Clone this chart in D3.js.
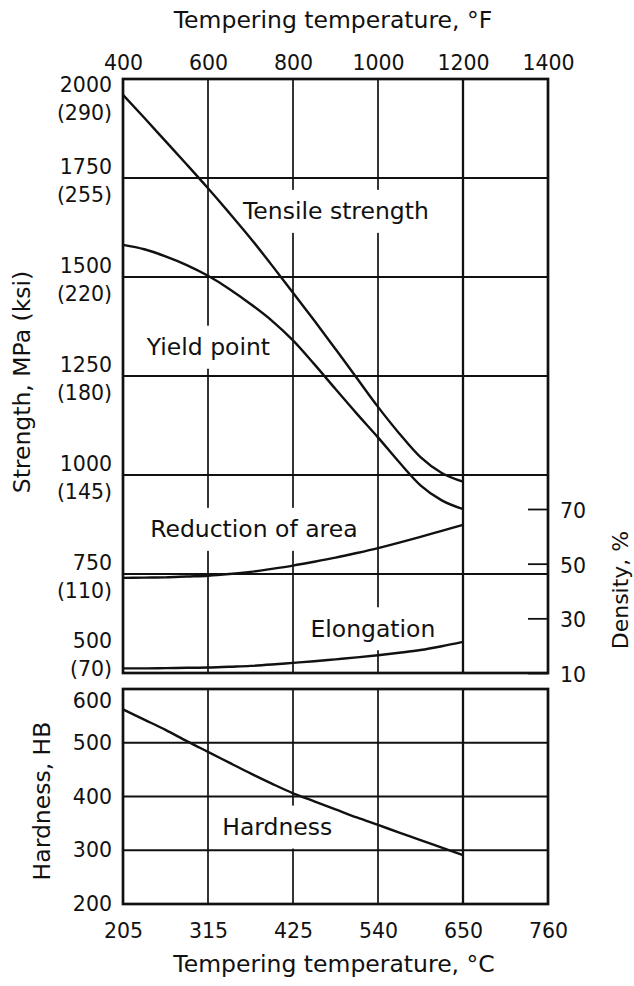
<!DOCTYPE html>
<html><head><meta charset="utf-8">
<script src="https://cdn.jsdelivr.net/npm/d3@7"></script>
<style>
body{margin:0;background:#fff}
svg{display:block}
text{font-family:"DejaVu Sans",sans-serif;fill:#111}
</style>
</head><body><svg id="c" width="634" height="986"></svg>
<script>
// ---------- data ----------
const tempF = [400, 450, 500, 550, 600, 650, 700, 750, 800, 850, 900, 950, 1000, 1050, 1100, 1150, 1200];
const tensileMPa = [1960, 1902, 1843, 1784, 1724, 1662, 1598, 1530, 1460, 1390, 1318, 1245, 1172, 1105, 1045, 1005, 983];
const yieldMPa = [1581, 1570, 1552, 1530, 1503, 1470, 1432, 1390, 1340, 1280, 1217, 1155, 1095, 1032, 974, 936, 914];
const reductionPct = [44.8, 44.9, 45.0, 45.3, 45.6, 46.2, 47.0, 48.1, 49.3, 50.7, 52.2, 53.9, 55.7, 57.7, 59.8, 62.0, 64.2];
const elongationPct = [11.7, 11.7, 11.8, 11.9, 12.0, 12.3, 12.6, 13.1, 13.7, 14.3, 15.0, 15.7, 16.5, 17.4, 18.4, 19.8, 21.4];
const hardnessHB = [562, 543, 524, 503, 483, 463, 443, 424, 406, 391, 376, 361, 347, 333, 319, 305, 291];
const tickF = [400, 600, 800, 1000, 1200, 1400];
const tickC = [205, 315, 425, 540, 650, 760];
const strengthMPa = [2000, 1750, 1500, 1250, 1000, 750, 500];
const strengthKsi = [290, 255, 220, 180, 145, 110, 70];
const densityTicks = [10, 30, 50, 70];
const hardnessTicks = [200, 300, 400, 500, 600];

// ---------- layout ----------
const L = 123, R = 548;
const T1 = 79, B1 = 673, T2 = 689, B2 = 904;
const svg = d3.select("#c");

const x = d3.scaleLinear().domain([400, 1400]).range([L, R]);
const yS = d3.scaleLinear().domain([500, 2000]).range([B1, T1]);
const yD = d3.scaleLinear().domain([10, 70]).range([B1, 509]);
const yH = d3.scaleLinear().domain([200, 600]).range([B2, T2]);

const ink = "#111";

const gGrid = svg.append("g");
const gRects = svg.append("g");
const gCurves = svg.append("g");
const gLabels = svg.append("g");

// ---------- gridlines ----------
function grid(g, yScale, yVals, top, bottom) {
  g.selectAll("line.h").data(yVals).join("line").attr("class", "h")
    .attr("x1", L).attr("x2", R)
    .attr("y1", d => yScale(d)).attr("y2", d => yScale(d))
    .attr("stroke", ink).attr("stroke-width", 1.8);
  g.selectAll("line.v").data(tickF.slice(1, -1)).join("line").attr("class", "v")
    .attr("x1", d => x(d)).attr("x2", d => x(d))
    .attr("y1", top).attr("y2", bottom)
    .attr("stroke", ink).attr("stroke-width", d => d === 1200 ? 2.3 : 1.7);
}
grid(gGrid.append("g"), yS, strengthMPa.slice(1, -1), T1, B1);
grid(gGrid.append("g"), yH, hardnessTicks.slice(1, -1), T2, B2);

// ---------- curve labels (white backgrounds break gridlines) ----------
const labels = [
  {text: "Tensile strength", x: x(901), y: yS(1667)},
  {text: "Yield point", x: x(601), y: yS(1324)},
  {text: "Reduction of area", x: x(708), y: yS(864)},
  {text: "Elongation", x: x(988), y: yS(613)},
  {text: "Hardness", x: x(763), y: yH(344)}
];
const lt = gLabels.selectAll("text").data(labels).join("text")
  .attr("x", d => d.x).attr("y", d => d.y).attr("dy", "0.36em")
  .attr("text-anchor", "middle").attr("font-size", 23.5)
  .text(d => d.text);
lt.each(function(d) {
  const b = this.getBBox();
  gRects.append("rect")
    .attr("x", b.x - 2).attr("width", b.width + 4)
    .attr("y", d.y - 21).attr("height", 43)
    .attr("fill", "#fff");
});

// ---------- curves ----------
const line = (ys, yScale) => d3.line()
  .x((d, i) => x(tempF[i])).y(d => yScale(d))
  .curve(d3.curveMonotoneX)(ys);
const curves = [
  [tensileMPa, yS], [yieldMPa, yS], [reductionPct, yD], [elongationPct, yD], [hardnessHB, yH]
];
gCurves.selectAll("path").data(curves).join("path")
  .attr("d", d => line(d[0], d[1]))
  .attr("fill", "none").attr("stroke", ink).attr("stroke-width", 2.4)
  .attr("stroke-linejoin", "round");

// ---------- frames ----------
svg.append("rect").attr("x", L).attr("y", T1).attr("width", R - L).attr("height", B1 - T1)
  .attr("fill", "none").attr("stroke", ink).attr("stroke-width", 2.7);
svg.append("rect").attr("x", L).attr("y", T2).attr("width", R - L).attr("height", B2 - T2)
  .attr("fill", "none").attr("stroke", ink).attr("stroke-width", 2.7);

// ---------- axes ----------
const topAx = svg.append("g").attr("transform", `translate(0,${T1})`)
  .call(d3.axisTop(x).tickValues(tickF).tickSize(0).tickPadding(9).tickFormat(d3.format("d")));
const botAx = svg.append("g").attr("transform", `translate(0,${B2})`)
  .call(d3.axisBottom(x).tickValues(tickF).tickSize(0).tickPadding(19)
    .tickFormat((d, i) => tickC[i]));
const hAx = svg.append("g").attr("transform", `translate(${L},0)`)
  .call(d3.axisLeft(yH).tickValues(hardnessTicks).tickSize(0).tickPadding(11));
hAx.selectAll(".tick text").filter(d => d === 600).attr("y", 12);
const dAx = svg.append("g").attr("transform", `translate(${R},0)`)
  .call(d3.axisRight(yD).tickValues(densityTicks).tickSize(-20).tickPadding(12));
dAx.selectAll(".tick line").attr("stroke", ink).attr("stroke-width", 1.8);
dAx.selectAll(".tick text").attr("y", 2);
[topAx, botAx, hAx, dAx].forEach(a => {
  a.select(".domain").remove();
  a.selectAll(".tick text").attr("font-family", "DejaVu Sans").attr("font-size", 20.5).attr("fill", ink);
});

// strength two-line labels
const sl = svg.append("g").attr("font-size", 20.5).attr("text-anchor", "end");
strengthMPa.forEach((v, i) => {
  const c = Math.max(T1 + 20, Math.min(B1 - 18, yS(v) + 3));
  sl.append("text").attr("x", 112).attr("y", c - 14).attr("dy", "0.36em").text(v);
  sl.append("text").attr("x", 112).attr("y", c + 14).attr("dy", "0.36em").text(`(${strengthKsi[i]})`);
});

// ---------- titles ----------
svg.append("text").attr("x", 333).attr("y", 28).attr("text-anchor", "middle")
  .attr("font-size", 23.5).text("Tempering temperature, °F");
svg.append("text").attr("x", 334).attr("y", 972).attr("text-anchor", "middle")
  .attr("font-size", 23.5).text("Tempering temperature, °C");
svg.append("text").attr("transform", "translate(22,382) rotate(-90)")
  .attr("text-anchor", "middle").attr("dy", "0.36em").attr("font-size", 23.5)
  .text("Strength, MPa (ksi)");
svg.append("text").attr("transform", "translate(42,801) rotate(-90)")
  .attr("text-anchor", "middle").attr("dy", "0.36em").attr("font-size", 23.5)
  .text("Hardness, HB");
svg.append("text").attr("transform", "translate(620,590) rotate(-90)")
  .attr("text-anchor", "middle").attr("dy", "0.36em").attr("font-size", 22)
  .text("Density, %");
</script>
</body></html>
